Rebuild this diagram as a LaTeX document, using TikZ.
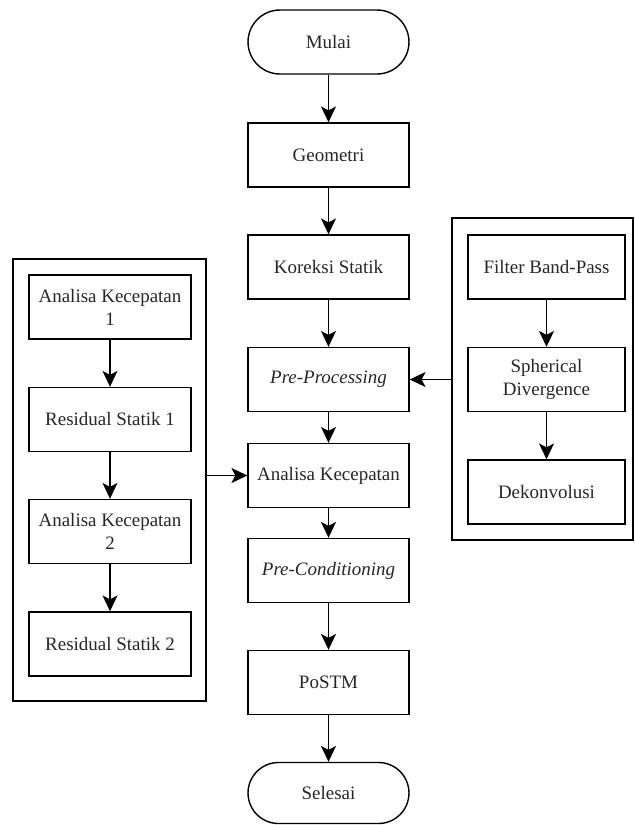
\documentclass[tikz,border=0pt]{standalone}
\usepackage{fontspec}
\setmainfont{LiberationSerif}[Extension=.ttf, UprightFont=*-Regular,
  ItalicFont=*-Italic, BoldFont=*-Bold, BoldItalicFont=*-BoldItalic]
\usetikzlibrary{arrows.meta}

\tikzset{
  box/.style={draw, line width=0.8pt, minimum width=3.22cm, minimum height=1.28cm,
    align=center, text=black!85, font=\fontsize{10.8}{13}\selectfont},
  term/.style={box, rounded corners=0.64cm},
  group/.style={draw, line width=0.8pt},
  flow/.style={-{Stealth[length=9pt,width=8.5pt,inset=2.2pt]}, line width=0.8pt},
}

\begin{document}
\begin{tikzpicture}[x=0.02cm, y=-0.02cm]
    \useasboundingbox (0,0) rectangle (635,825);

    % Frames of the two side groups
    \node[group, minimum width=3.86cm, minimum height=8.84cm] (leftgrp) at (109.5,480) {};
    \node[group, minimum width=3.62cm, minimum height=6.44cm] (rightgrp) at (542.5,379) {};

    % Main column
    \node[term] (mulai) at (328.5,42) {Mulai};
    \node[box] (geometri) at (328.5,155) {Geometri};
    \node[box] (koreksi) at (328.5,267) {Koreksi Statik};
    \node[box] (prepro) at (328.5,379.5) {\textit{Pre-Processing}};
    \node[box] (analisa) at (328.5,475.5) {Analisa Kecepatan};
    \node[box] (precond) at (328.5,570.5) {\textit{Pre-Conditioning}};
    \node[box] (postm) at (328.5,682.5) {PoSTM};
    \node[term, minimum height=1.22cm, rounded corners=0.61cm] (selesai) at (328.5,793) {Selesai};

    % Left group
    \node[box, minimum width=3.24cm] (ak1) at (110,307) {Analisa Kecepatan\\1};
    \node[box, minimum width=3.24cm] (rs1) at (110,419.5) {Residual Statik 1};
    \node[box, minimum width=3.24cm] (ak2) at (110,531.5) {Analisa Kecepatan\\2};
    \node[box, minimum width=3.24cm] (rs2) at (110,644) {Residual Statik 2};

    % Right group
    \node[box, minimum width=3.14cm] (bandpass) at (546.5,267) {Filter Band-Pass};
    \node[box, minimum width=3.14cm] (spherical) at (546.5,379.5) {Spherical\\Divergence};
    \node[box, minimum width=3.14cm] (dekon) at (546.5,492) {Dekonvolusi};

    % Arrows inside the chains
    \foreach \a/\b in {mulai/geometri, geometri/koreksi, koreksi/prepro, prepro/analisa,
        analisa/precond, precond/postm, postm/selesai,
        ak1/rs1, rs1/ak2, ak2/rs2, bandpass/spherical, spherical/dekon} {
        \draw[flow] (\a) -- (\b);
    }

    % Arrows from the groups
    \draw[flow] (leftgrp.east |- analisa) -- (analisa);
    \draw[flow] (rightgrp.west |- prepro) -- (prepro);
\end{tikzpicture}
\end{document}
